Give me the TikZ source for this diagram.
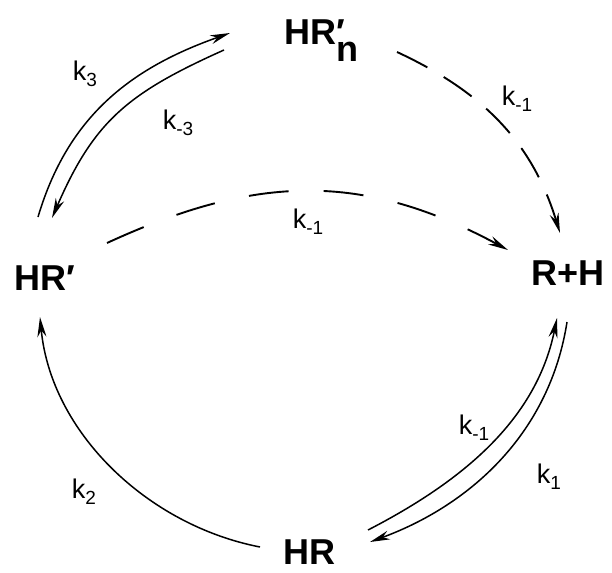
\documentclass[tikz,border=0pt]{standalone}
\usepackage{fontspec}
\setmainfont{Liberation Sans}
\usepackage{tikz}
\usetikzlibrary{arrows.meta, calc}

\newcommand{\krate}[1]{k\raisebox{-6pt}{\fontsize{19}{19}\selectfont #1}}

\begin{document}
\begin{tikzpicture}[
  x=1pt, y=-1pt,
  species/.style={inner sep=0pt, anchor=base west, font=\fontsize{36}{36}\selectfont\bfseries},
  rate/.style={inner sep=0pt, font=\fontsize{27}{27}\selectfont},
  fwd/.style={line width=1.5pt, -{Stealth[length=20pt, width=9pt]}},
  back/.style={fwd, line width=1.9pt},
]
  \useasboundingbox (0,0) rectangle (612,572);

  % species
  \node[species] (hrn) at (284,45) {HR\rlap{\char"2032}\raisebox{-17pt}{n}};
  \node[species] (hrp) at (14,290) {HR\char"2032};
  \node[species] (rh)  at (531,285) {R+H};
  \node[species] (hr)  at (283,564) {HR};

  % HR' <-> HR'n
  \draw[fwd] ([shift={(24,-73)}]hrp.base west)
    .. controls +(30,-101) and +(-99,35) .. ([shift={(-54,-12)}]hrn.base west);
  \draw[fwd] ([shift={(-60,5)}]hrn.base west)
    .. controls +(-96,43) and +(42,-97) .. ([shift={(38,-72)}]hrp.base west);

  % dissociation, dashed
  \draw[back, dash pattern=on 34pt off 19pt] ([shift={(113,7)}]hrn.base west)
    .. controls +(86,40) and +(-28,-91) .. ([shift={(29,-52)}]rh.base west);
  \draw[back, dash pattern=on 40pt off 35pt] ([shift={(93,-47)}]hrp.base west)
    .. controls +(150,-69) and +(-145,-78) .. ([shift={(-23,-35)}]rh.base west);

  % HR -> HR'
  \draw[fwd] ([shift={(-23,-17)}]hr.base west)
    .. controls +(-113,-22) and +(11,115) .. ([shift={(26,27)}]hrp.base west);

  % R+H <-> HR
  \draw[fwd] ([shift={(36,37)}]rh.base west)
    .. controls +(-17,109) and +(103,-38) .. ([shift={(87,-22)}]hr.base west);
  \draw[fwd] ([shift={(85,-34)}]hr.base west)
    .. controls +(93,-48) and +(-21,103) .. ([shift={(26,33)}]rh.base west);

  % rate constants
  \node[rate] (k3)  at (85,74)   {\krate{3}};
  \node[rate] (km3) at (178,123) {\krate{-3}};
  \node[rate] (km1a) at (517,99)  {\krate{-1}};
  \node[rate] (km1b) at (308,222) {\krate{-1}};
  \node[rate] (km1c) at (474,428) {\krate{-1}};
  \node[rate] (k1)  at (549,477) {\krate{1}};
  \node[rate] (k2)  at (84,492)  {\krate{2}};
\end{tikzpicture}
\end{document}
